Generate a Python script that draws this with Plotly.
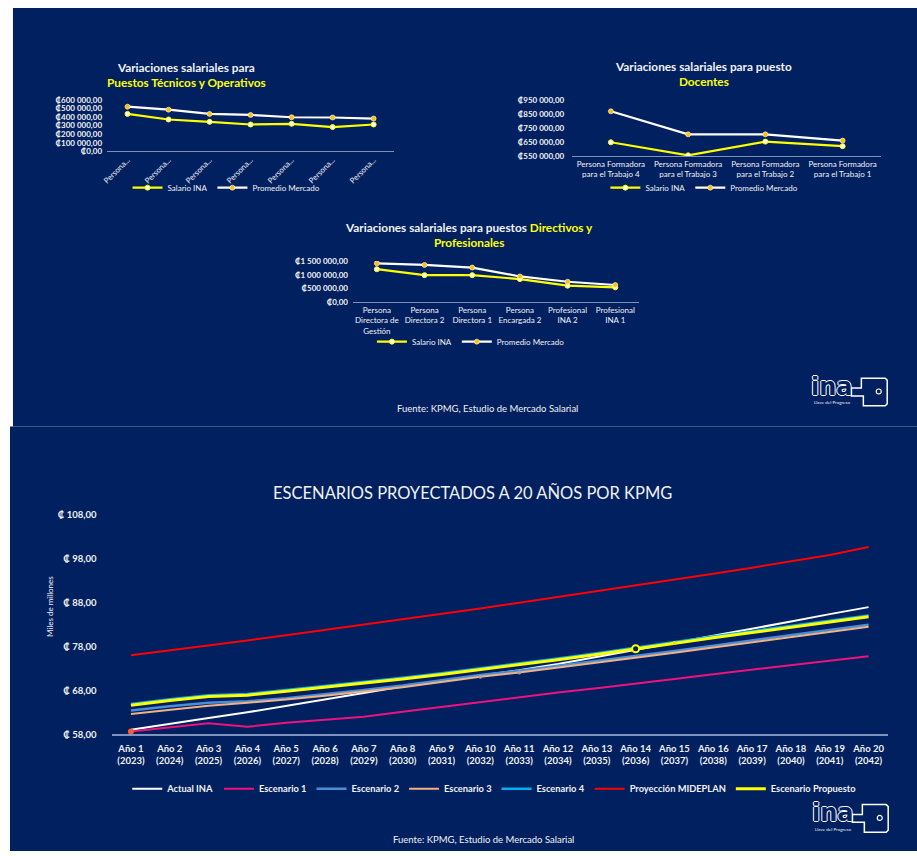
import plotly.graph_objects as go

W, H = 917, 856
NAVY = "#002060"
YEL = "#FFFF00"
ORANGE = "#FFC000"
TXT = "#F2F2F2"
FONT = "Lato"

# ---------------- Data: Puestos Técnicos y Operativos ----------------
tec_labels = ["Persona...", "Persona...", "Persona...", "Persona...",
              "Persona...", "Persona...", "Persona..."]
tec_ina = [436000, 371000, 344000, 313000, 321000, 283000, 313000]
tec_mercado = [520000, 485000, 436000, 424000, 397000, 394000, 382000]
tec_ticks = [0, 100000, 200000, 300000, 400000, 500000, 600000]
tec_ticktext = ["₡0,00", "₡100 000,00", "₡200 000,00", "₡300 000,00",
                "₡400 000,00", "₡500 000,00", "₡600 000,00"]

# ---------------- Data: Docentes ----------------
doc_labels = ["Persona Formadora<br>para el Trabajo 4",
              "Persona Formadora<br>para el Trabajo 3",
              "Persona Formadora<br>para el Trabajo 2",
              "Persona Formadora<br>para el Trabajo 1"]
doc_ina = [649000, 555000, 654000, 621000]
doc_mercado = [872000, 706000, 706000, 661000]
doc_ticks = [550000, 650000, 750000, 850000, 950000]
doc_ticktext = ["₡550 000,00", "₡650 000,00", "₡750 000,00",
                "₡850 000,00", "₡950 000,00"]

# ---------------- Data: Directivos y Profesionales ----------------
dir_labels = ["Persona<br>Directora de<br>Gestión", "Persona<br>Directora 2",
              "Persona<br>Directora 1", "Persona<br>Encargada 2",
              "Profesional<br>INA 2", "Profesional<br>INA 1"]
dir_ina = [1200000, 984000, 984000, 840000, 600000, 540000]
dir_mercado = [1416000, 1356000, 1260000, 936000, 744000, 624000]
dir_ticks = [0, 500000, 1000000, 1500000]
dir_ticktext = ["₡0,00", "₡500 000,00", "₡1 000 000,00", "₡1 500 000,00"]

# ---------------- Data: Escenarios proyectados ----------------
anos = ["Año 1", "Año 2", "Año 3", "Año 4", "Año 5", "Año 6", "Año 7",
        "Año 8", "Año 9", "Año 10", "Año 11", "Año 12", "Año 13", "Año 14",
        "Año 15", "Año 16", "Año 17", "Año 18", "Año 19", "Año 20"]
years = ["2023", "2024", "2025", "2026", "2027", "2028", "2029", "2030",
         "2031", "2032", "2033", "2034", "2035", "2036", "2037", "2038",
         "2039", "2040", "2041", "2042"]
actual_ina = [59.0, 60.4, 61.7, 63.0, 64.5, 66.0, 67.5, 68.9, 70.2, 71.4,
              72.6, 74.0, 75.6, 77.3, 78.9, 80.5, 82.1, 83.7, 85.4, 87.0]
escenario1 = [58.6, 59.6, 60.5, 59.7, 60.6, 61.3, 62.0, 63.1, 64.2, 65.4,
              66.4, 67.5, 68.5, 69.5, 70.6, 71.7, 72.7, 73.8, 74.7, 75.8]
escenario2 = [63.4, 64.4, 65.2, 65.5, 66.2, 67.1, 68.1, 69.1, 70.3, 71.5,
              72.5, 73.6, 74.7, 75.8, 77.0, 78.2, 79.4, 80.6, 81.8, 83.0]
escenario3 = [62.6, 63.6, 64.5, 65.2, 65.9, 66.8, 67.7, 68.7, 69.9, 71.1,
              72.1, 73.2, 74.3, 75.4, 76.6, 77.8, 79.0, 80.2, 81.3, 82.5]
escenario4 = [64.9, 66.0, 66.9, 67.2, 68.1, 69.0, 69.9, 70.9, 71.9, 73.0,
              74.1, 75.3, 76.5, 77.8, 79.1, 80.3, 81.5, 82.7, 83.9, 85.1]
mideplan = [76.0, 77.1, 78.3, 79.4, 80.6, 81.8, 83.0, 84.2, 85.5, 86.7,
            88.0, 89.3, 90.6, 91.9, 93.3, 94.6, 96.0, 97.4, 98.9, 100.7]
propuesto = [64.6, 65.7, 66.6, 66.9, 67.8, 68.7, 69.6, 70.6, 71.6, 72.7,
             73.8, 75.0, 76.2, 77.5, 78.8, 80.0, 81.2, 82.4, 83.6, 84.8]
esc_ticks = [58, 68, 78, 88, 98, 108]
esc_ticktext = ["₡ 58,00", "₡ 68,00", "₡ 78,00", "₡ 88,00", "₡ 98,00", "₡ 108,00"]

fuente = "Fuente: KPMG, Estudio de Mercado Salarial"


def px(x):
    return x / W


def py(y):
    return 1 - y / H


fig = go.Figure()


def small_pair(xs, ina, merc, xa, ya, leg):
    fig.add_trace(go.Scatter(
        x=xs, y=ina, name="Salario INA", mode="lines+markers",
        line=dict(color=YEL, width=2.2),
        marker=dict(symbol="circle", size=5, color="#FFFFFF",
                    line=dict(color=YEL, width=1)),
        xaxis=xa, yaxis=ya, legend=leg))
    fig.add_trace(go.Scatter(
        x=xs, y=merc, name="Promedio Mercado", mode="lines+markers",
        line=dict(color="#FFFFFF", width=2.2),
        marker=dict(symbol="circle", size=5, color=ORANGE,
                    line=dict(color="#FFFFFF", width=0.6)),
        xaxis=xa, yaxis=ya, legend=leg))


small_pair(list(range(len(tec_labels))), tec_ina, tec_mercado, "x", "y", "legend")
small_pair(list(range(len(doc_labels))), doc_ina, doc_mercado, "x2", "y2", "legend2")
small_pair(list(range(len(dir_labels))), dir_ina, dir_mercado, "x3", "y3", "legend3")

# Bottom chart
xs4 = list(range(len(anos)))
series = [
    ("Actual INA", actual_ina, "#FFFFFF", 2),
    ("Escenario 1", escenario1, "#F0127C", 2),
    ("Escenario 2", escenario2, "#4A8FD6", 2.5),
    ("Escenario 3", escenario3, "#F4B183", 2),
    ("Escenario 4", escenario4, "#00B0F0", 2.5),
    ("Proyección MIDEPLAN", mideplan, "#FF0000", 2),
    ("Escenario Propuesto", propuesto, YEL, 3),
]
for name, vals, col, wd in series:
    fig.add_trace(go.Scatter(
        x=xs4, y=vals, name=name, mode="lines",
        line=dict(color=col, width=wd),
        xaxis="x4", yaxis="y4", legend="legend4"))

# highlighted points seen in the picture
fig.add_trace(go.Scatter(x=[xs4[0]], y=[escenario1[0]], mode="markers",
                         marker=dict(size=6, color="#FF5A36"), showlegend=False,
                         xaxis="x4", yaxis="y4"))
fig.add_trace(go.Scatter(x=[xs4[9], xs4[10]], y=[escenario3[9], escenario3[10]],
                         mode="markers", marker=dict(size=4, color="#A6A6A6"),
                         showlegend=False, xaxis="x4", yaxis="y4"))
fig.add_trace(go.Scatter(x=[xs4[13]], y=[propuesto[13]], mode="markers",
                         marker=dict(size=7, color=NAVY, line=dict(color=YEL, width=2)),
                         showlegend=False, xaxis="x4", yaxis="y4"))
fig.add_trace(go.Scatter(x=[xs4[14]], y=[propuesto[14]], mode="markers",
                         marker=dict(size=4, color="#E6E600"),
                         showlegend=False, xaxis="x4", yaxis="y4"))

small_tick = dict(family=FONT, size=8, color=TXT, weight="bold")
axis_line = "#7F8FB5"


def xaxis_cfg(dom, n, labels, angle=0, size=8):
    return dict(domain=[px(dom[0]), px(dom[1])], range=[-0.5, n - 0.5],
                tickmode="array", tickvals=list(range(n)), ticktext=labels,
                tickangle=angle, showgrid=False, zeroline=False,
                showline=True, linecolor=axis_line, linewidth=1.2,
                ticks="", tickfont=dict(family=FONT, size=size, color=TXT),
                fixedrange=True)


def yaxis_cfg(dom, rng, tv, tt, font, standoff=4):
    return dict(domain=[py(dom[1]), py(dom[0])], range=rng,
                tickmode="array", tickvals=tv, ticktext=tt,
                showgrid=False, zeroline=False, showline=False, ticks="",
                tickfont=font, ticklabelstandoff=standoff, fixedrange=True)


tick4 = [a + "<br>(" + y + ")" for a, y in zip(anos, years)]

fig.update_layout(
    width=W, height=H,
    margin=dict(l=0, r=0, t=0, b=0),
    paper_bgcolor="#FFFFFF",
    plot_bgcolor="rgba(0,0,0,0)",
    font=dict(family=FONT, color=TXT),
    xaxis=xaxis_cfg((101.7, 390.7), len(tec_labels), tec_labels, angle=-45, size=7.8),
    yaxis=yaxis_cfg((95, 147.3), [0, 600000], tec_ticks, tec_ticktext, small_tick),
    xaxis2=dict(xaxis_cfg((570, 881), len(doc_labels), doc_labels, size=8), anchor="y2"),
    yaxis2=dict(yaxis_cfg((95.7, 152), [550000, 950000], doc_ticks, doc_ticktext,
                          small_tick, standoff=7), anchor="x2"),
    xaxis3=dict(xaxis_cfg((349.3, 637.3), len(dir_labels), dir_labels, size=8), anchor="y3"),
    yaxis3=dict(yaxis_cfg((258.3, 300), [0, 1500000], dir_ticks, dir_ticktext,
                          small_tick, standoff=4), anchor="x3"),
    xaxis4=dict(xaxis_cfg((106.2, 887.8), len(anos), tick4, size=9.5), anchor="y4"),
    yaxis4=dict(yaxis_cfg((515.7, 737.7), [58, 108], esc_ticks, esc_ticktext,
                          dict(family=FONT, size=9.5, color=TXT, weight="bold"),
                          standoff=14), anchor="x4"),
    showlegend=True,
)
fig.layout.xaxis4.tickfont = dict(family=FONT, size=9.5, color=TXT, weight="bold")
fig.layout.xaxis4.linecolor = "#8093BE"
fig.layout.xaxis4.linewidth = 2
fig.layout.xaxis4.ticklabelstandoff = 4

leg_common = dict(orientation="h", xanchor="center", yanchor="middle",
                  bgcolor="rgba(0,0,0,0)", itemclick=False, itemdoubleclick=False)
fig.update_layout(
    legend=dict(leg_common, x=px(222), y=py(184),
                font=dict(family=FONT, size=8, color=TXT), itemwidth=30),
    legend2=dict(leg_common, x=px(703), y=py(184),
                 font=dict(family=FONT, size=8, color=TXT), itemwidth=30),
    legend3=dict(leg_common, x=px(468), y=py(340),
                 font=dict(family=FONT, size=8, color=TXT), itemwidth=30),
    legend4=dict(leg_common, x=px(492), y=py(793),
                 font=dict(family=FONT, size=9.3, color=TXT, weight="bold"), itemwidth=30),
)

# panel backgrounds
fig.add_shape(type="rect", xref="paper", yref="paper", layer="below",
              x0=px(7), x1=1, y0=py(426), y1=py(2), fillcolor=NAVY, line_width=0)
fig.add_shape(type="rect", xref="paper", yref="paper", layer="below",
              x0=px(4), x1=1, y0=0, y1=py(426), fillcolor=NAVY, line_width=0)

ann = []


def add_text(x, y, text, size, color=TXT, weight="normal", angle=0, xanchor="center"):
    ann.append(dict(x=px(x), y=py(y), xref="paper", yref="paper", text=text,
                    showarrow=False, xanchor=xanchor, yanchor="middle",
                    textangle=angle,
                    font=dict(family=FONT, size=size, color=color, weight=weight)))


TS = 11.8
ysp = "<span style='color:#FFFF00'>"
add_text(182, 70, "Variaciones salariales para<br>" + ysp
         + "Puestos Técnicos y Operativos</span>", TS, weight="bold")
add_text(702, 69, "Variaciones salariales para puesto<br>" + ysp
         + "Docentes</span>", TS, weight="bold")
add_text(466.5, 232, "Variaciones salariales para puestos " + ysp
         + "Directivos y</span><br>" + ysp + "Profesionales</span>", TS, weight="bold")
add_text(485, 408, fuente, 9.5)
add_text(470, 493, "ESCENARIOS PROYECTADOS A 20 AÑOS POR KPMG", 16.5)
add_text(44, 608, "Miles de millones", 8, angle=-90)
add_text(481, 844, fuente, 9.5)

# logos
outline = "1px 0 0 #FFFFFF, -1px 0 0 #FFFFFF, 0 1px 0 #FFFFFF, 0 -1px 0 #FFFFFF"


def add_logo(x0, y0):
    ann.append(dict(x=px(x0 + 22), y=py(y0 + 11), xref="paper", yref="paper",
                    text="ina", showarrow=False, xanchor="center", yanchor="middle",
                    font=dict(family="DejaVu Sans", size=24, color=NAVY, weight="bold",
                              shadow=outline)))
    ann.append(dict(x=px(x0 + 22), y=py(y0 + 27), xref="paper", yref="paper",
                    text="Llave del Progreso", showarrow=False, xanchor="center",
                    yanchor="middle", font=dict(family=FONT, size=4.5, color=TXT)))
    fig.add_shape(type="path", xref="paper", yref="paper",
                  path=(f"M {px(x0+52)} {py(y0+2)} L {px(x0+76)} {py(y0+2)} "
                        f"L {px(x0+78)} {py(y0+4)} L {px(x0+78)} {py(y0+28)} "
                        f"L {px(x0+76)} {py(y0+30)} L {px(x0+54)} {py(y0+30)} "
                        f"L {px(x0+54)} {py(y0+20)} L {px(x0+42)} {py(y0+20)} "
                        f"L {px(x0+42)} {py(y0+12)} L {px(x0+52)} {py(y0+12)} Z"),
                  line=dict(color="#FFFFFF", width=1.5))
    fig.add_shape(type="circle", xref="paper", yref="paper",
                  x0=px(x0+67), x1=px(x0+72), y0=py(y0+18), y1=py(y0+13),
                  line=dict(color="#FFFFFF", width=1.2))


add_logo(809, 375)
add_logo(810, 807)

fig.update_layout(annotations=ann)

fig.write_html("out.html")
